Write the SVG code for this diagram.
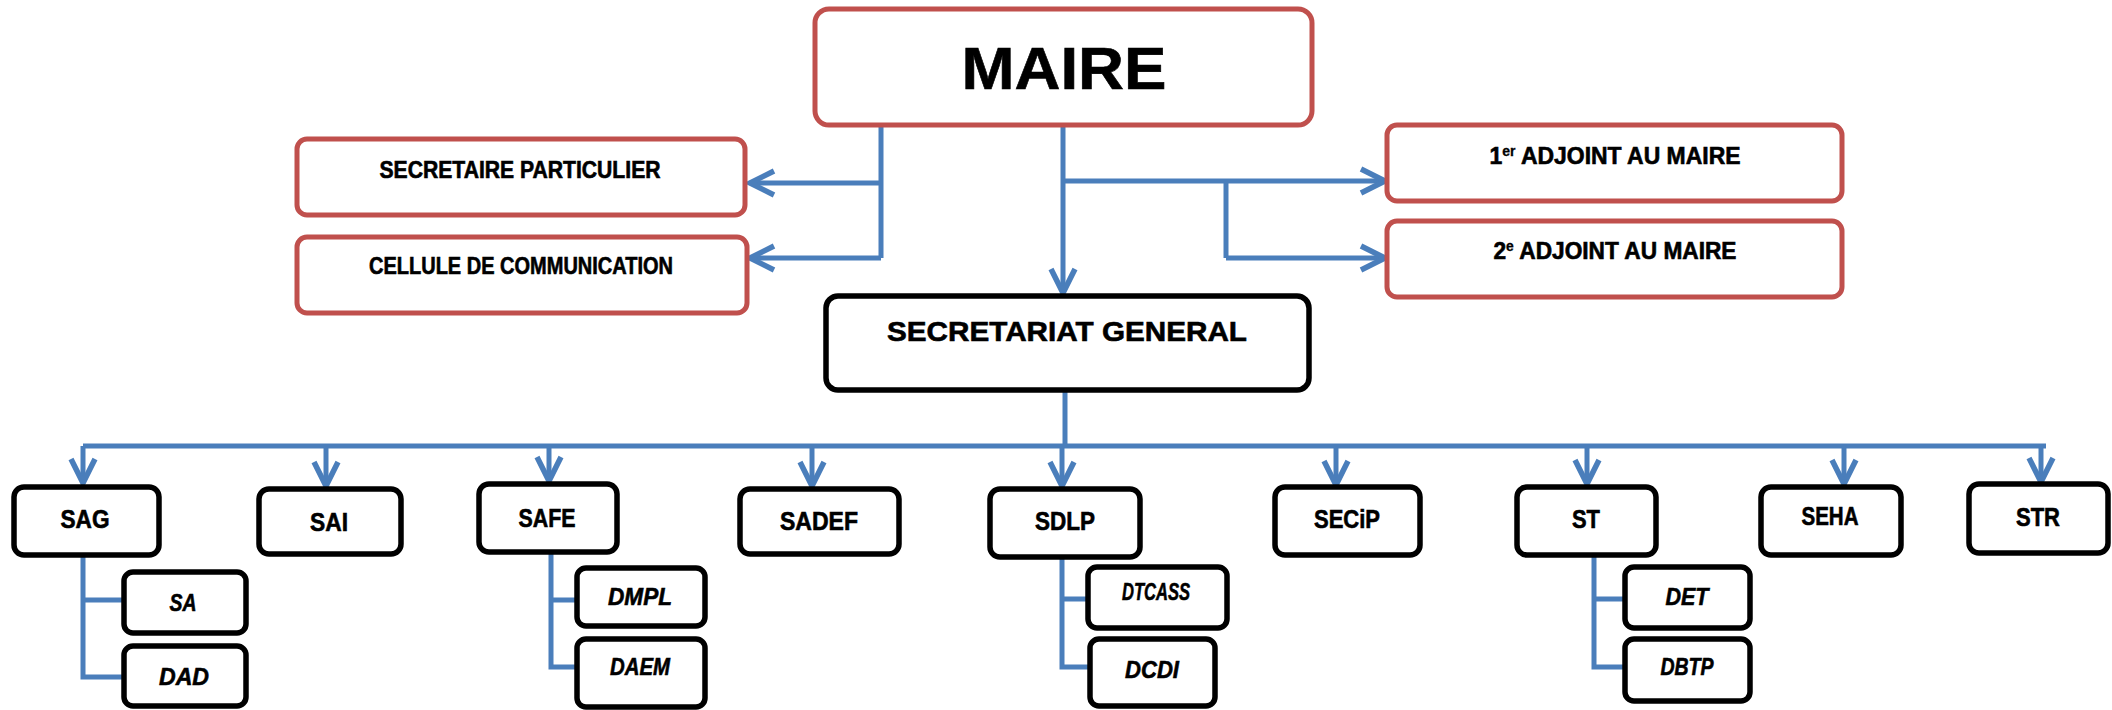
<svg xmlns="http://www.w3.org/2000/svg" width="2112" height="710" viewBox="0 0 2112 710">
<style>
.r{fill:#fff;stroke:#C0504D;stroke-width:5}
.b{fill:#fff;stroke:#000;stroke-width:5.5}
text{font-family:"Liberation Sans",Arial,sans-serif;font-weight:bold;fill:#000;text-anchor:middle;stroke:#000;stroke-width:0.6}
.m{font-size:23px}
.n{font-size:25px}
.s{font-size:24px;font-style:italic}
.c{fill:none;stroke:#4A7EBB;stroke-width:5}
.a{fill:none;stroke:#4A7EBB;stroke-width:5;marker-end:url(#arr)}
</style>
<defs>
<marker id="arr" markerUnits="userSpaceOnUse" markerWidth="40" markerHeight="40" viewBox="-30 -20 40 40" refX="0" refY="0" orient="auto" overflow="visible">
<path d="M-24,-12 L0,0 L-24,12" fill="none" stroke="#4A7EBB" stroke-width="5.5" stroke-linejoin="miter"/>
</marker>
</defs>
<g id="connectors">
<path class="c" d="M881,126 V258"/>
<path class="a" d="M881,183 H750"/>
<path class="a" d="M881,258 H750"/>
<path class="a" d="M1063,126 V293"/>
<path class="a" d="M1063,181 H1385"/>
<path class="c" d="M1226,181 V258"/>
<path class="a" d="M1226,258 H1385"/>
<path class="c" d="M1065,390 V446"/>
<path class="c" d="M83,446 H2046"/>
<path class="a" d="M83,446 V483"/>
<path class="a" d="M326,446 V486"/>
<path class="a" d="M549,446 V481"/>
<path class="a" d="M812,446 V486"/>
<path class="a" d="M1062,446 V486"/>
<path class="a" d="M1336,446 V485"/>
<path class="a" d="M1587,446 V484"/>
<path class="a" d="M1844,446 V484"/>
<path class="a" d="M2041,446 V482"/>
<path class="c" d="M83,555 V677 H123 M83,600 H123"/>
<path class="c" d="M551,552 V667 H576 M551,600 H576"/>
<path class="c" d="M1062,557 V667 H1089 M1062,599 H1087"/>
<path class="c" d="M1594,555 V667 H1624 M1594,599 H1624"/>
</g>
<g id="maire"><rect class="r" x="815" y="9" width="497" height="116" rx="14"/><text x="1064" y="89" font-size="60" stroke-width="2" textLength="205" lengthAdjust="spacingAndGlyphs">MAIRE</text></g>
<g id="secretaire"><rect class="r" x="297" y="139" width="448" height="76" rx="10"/><text class="m" x="520" y="178" textLength="281" lengthAdjust="spacingAndGlyphs">SECRETAIRE PARTICULIER</text></g>
<g id="cellule"><rect class="r" x="297" y="237" width="450" height="76" rx="10"/><text class="m" x="521" y="274" textLength="304" lengthAdjust="spacingAndGlyphs">CELLULE DE COMMUNICATION</text></g>
<g id="adjoint1"><rect class="r" x="1387" y="125" width="455" height="76" rx="10"/><text class="m" x="1615" y="164" textLength="251" lengthAdjust="spacingAndGlyphs">1<tspan font-size="14" baseline-shift="super" stroke-width="0.3">er</tspan> ADJOINT AU MAIRE</text></g>
<g id="adjoint2"><rect class="r" x="1387" y="221" width="455" height="76" rx="10"/><text class="m" x="1615" y="259" textLength="243" lengthAdjust="spacingAndGlyphs">2<tspan font-size="14" baseline-shift="super" stroke-width="0.3">e</tspan> ADJOINT AU MAIRE</text></g>
<g id="sg"><rect class="b" x="826" y="296" width="483" height="94" rx="12"/><text x="1067" y="341" font-size="28" stroke-width="1.2" textLength="360" lengthAdjust="spacingAndGlyphs">SECRETARIAT GENERAL</text></g>
<g id="sag"><rect class="b" x="14" y="487" width="145" height="68" rx="10"/><text class="n" x="85" y="528" textLength="49" lengthAdjust="spacingAndGlyphs">SAG</text></g>
<g id="sai"><rect class="b" x="259" y="489" width="142" height="65" rx="10"/><text class="n" x="329" y="531" textLength="38" lengthAdjust="spacingAndGlyphs">SAI</text></g>
<g id="safe"><rect class="b" x="479" y="484" width="138" height="68" rx="10"/><text class="n" x="547" y="527" textLength="57" lengthAdjust="spacingAndGlyphs">SAFE</text></g>
<g id="sadef"><rect class="b" x="740" y="489" width="159" height="65" rx="10"/><text class="n" x="819" y="530" textLength="78" lengthAdjust="spacingAndGlyphs">SADEF</text></g>
<g id="sdlp"><rect class="b" x="990" y="489" width="150" height="68" rx="10"/><text class="n" x="1065" y="530" textLength="60" lengthAdjust="spacingAndGlyphs">SDLP</text></g>
<g id="secip"><rect class="b" x="1275" y="487" width="145" height="68" rx="10"/><text class="n" x="1347" y="528" textLength="66" lengthAdjust="spacingAndGlyphs">SECiP</text></g>
<g id="st"><rect class="b" x="1517" y="487" width="139" height="68" rx="10"/><text class="n" x="1586" y="528" textLength="28" lengthAdjust="spacingAndGlyphs">ST</text></g>
<g id="seha"><rect class="b" x="1761" y="487" width="140" height="68" rx="10"/><text class="n" x="1830" y="525" textLength="57" lengthAdjust="spacingAndGlyphs">SEHA</text></g>
<g id="str"><rect class="b" x="1969" y="484" width="139" height="69" rx="10"/><text class="n" x="2038" y="526" textLength="44" lengthAdjust="spacingAndGlyphs">STR</text></g>
<g id="sa"><rect class="b" x="124" y="572" width="122" height="61" rx="9"/><text class="s" x="183" y="611" textLength="27" lengthAdjust="spacingAndGlyphs">SA</text></g>
<g id="dad"><rect class="b" x="124" y="646" width="122" height="60" rx="9"/><text class="s" x="184" y="685" textLength="50" lengthAdjust="spacingAndGlyphs">DAD</text></g>
<g id="dmpl"><rect class="b" x="577" y="568" width="128" height="58" rx="9"/><text class="s" x="640" y="605" textLength="64" lengthAdjust="spacingAndGlyphs">DMPL</text></g>
<g id="daem"><rect class="b" x="577" y="639" width="128" height="68" rx="9"/><text class="s" x="640" y="675" textLength="60" lengthAdjust="spacingAndGlyphs">DAEM</text></g>
<g id="dtcass"><rect class="b" x="1088" y="567" width="139" height="61" rx="9"/><text class="s" x="1156" y="600" font-size="19" textLength="68" lengthAdjust="spacingAndGlyphs">DTCASS</text></g>
<g id="dcdi"><rect class="b" x="1090" y="639" width="125" height="67" rx="9"/><text class="s" x="1152" y="678" textLength="54" lengthAdjust="spacingAndGlyphs">DCDI</text></g>
<g id="det"><rect class="b" x="1625" y="567" width="125" height="61" rx="9"/><text class="s" x="1687" y="605" textLength="43" lengthAdjust="spacingAndGlyphs">DET</text></g>
<g id="dbtp"><rect class="b" x="1625" y="639" width="125" height="62" rx="9"/><text class="s" x="1687" y="675" textLength="53" lengthAdjust="spacingAndGlyphs">DBTP</text></g>
</svg>
